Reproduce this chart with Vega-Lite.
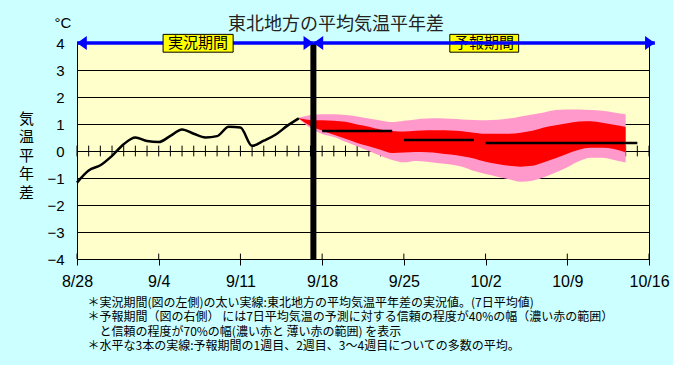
{
  "$schema": "https://vega.github.io/schema/vega-lite/v6.json",
  "width": 572,
  "height": 216,
  "autosize": {"type": "none"},
  "padding": {"left": 77, "top": 43, "right": 24, "bottom": 106},
  "background": "#CCFFFF",
  "title": {
    "text": "東北地方の平均気温平年差",
    "font": "Noto Sans CJK JP",
    "fontSize": 18,
    "fontWeight": "normal",
    "color": "#222222",
    "anchor": "middle",
    "frame": "group",
    "baseline": "middle",
    "dx": -27,
    "offset": -27
  },
  "config": {
    "view": {"fill": "#FFFFCC", "stroke": "black", "strokeWidth": 1},
    "axis": {"domainColor": "black", "tickColor": "black", "labelColor": "black", "titleColor": "black"}
  },
  "datasets": {
    "days": [
      {"date": "2024-08-28"}, {"date": "2024-08-29"}, {"date": "2024-08-30"}, {"date": "2024-08-31"},
      {"date": "2024-09-01"}, {"date": "2024-09-02"}, {"date": "2024-09-03"}, {"date": "2024-09-04"},
      {"date": "2024-09-05"}, {"date": "2024-09-06"}, {"date": "2024-09-07"}, {"date": "2024-09-08"},
      {"date": "2024-09-09"}, {"date": "2024-09-10"}, {"date": "2024-09-11"}, {"date": "2024-09-12"},
      {"date": "2024-09-13"}, {"date": "2024-09-14"}, {"date": "2024-09-15"}, {"date": "2024-09-16"},
      {"date": "2024-09-17"}, {"date": "2024-09-18"}, {"date": "2024-09-19"}, {"date": "2024-09-20"},
      {"date": "2024-09-21"}, {"date": "2024-09-22"}, {"date": "2024-09-23"}, {"date": "2024-09-24"},
      {"date": "2024-09-25"}, {"date": "2024-09-26"}, {"date": "2024-09-27"}, {"date": "2024-09-28"},
      {"date": "2024-09-29"}, {"date": "2024-09-30"}, {"date": "2024-10-01"}, {"date": "2024-10-02"},
      {"date": "2024-10-03"}, {"date": "2024-10-04"}, {"date": "2024-10-05"}, {"date": "2024-10-06"},
      {"date": "2024-10-07"}, {"date": "2024-10-08"}, {"date": "2024-10-09"}, {"date": "2024-10-10"},
      {"date": "2024-10-11"}, {"date": "2024-10-12"}, {"date": "2024-10-13"}, {"date": "2024-10-14"},
      {"date": "2024-10-15"}, {"date": "2024-10-16"}
    ],
    "weeks": [
      {"date": "2024-08-28"}, {"date": "2024-09-04"}, {"date": "2024-09-11"}, {"date": "2024-09-18"},
      {"date": "2024-09-25"}, {"date": "2024-10-02"}, {"date": "2024-10-09"}, {"date": "2024-10-16"}
    ],
    "observed": [
      {"date": "2024-08-28", "value": -1.17},
      {"date": "2024-08-29", "value": -0.72},
      {"date": "2024-08-30", "value": -0.53},
      {"date": "2024-08-31", "value": -0.18},
      {"date": "2024-09-01", "value": 0.25},
      {"date": "2024-09-02", "value": 0.5},
      {"date": "2024-09-03", "value": 0.37},
      {"date": "2024-09-04", "value": 0.33},
      {"date": "2024-09-05", "value": 0.56},
      {"date": "2024-09-06", "value": 0.8},
      {"date": "2024-09-07", "value": 0.64},
      {"date": "2024-09-08", "value": 0.5},
      {"date": "2024-09-09", "value": 0.55},
      {"date": "2024-09-10", "value": 0.9},
      {"date": "2024-09-11", "value": 0.87},
      {"date": "2024-09-12", "value": 0.19},
      {"date": "2024-09-13", "value": 0.38},
      {"date": "2024-09-14", "value": 0.6},
      {"date": "2024-09-15", "value": 0.93},
      {"date": "2024-09-16", "value": 1.21}
    ],
    "forecast": [
      {"date": "2024-09-16", "p_lo": 1.19, "r_lo": 1.2, "r_hi": 1.22, "p_hi": 1.23},
      {"date": "2024-09-17", "p_lo": 0.85, "r_lo": 0.93, "r_hi": 1.15, "p_hi": 1.33},
      {"date": "2024-09-18", "p_lo": 0.63, "r_lo": 0.76, "r_hi": 1.14, "p_hi": 1.36},
      {"date": "2024-09-19", "p_lo": 0.52, "r_lo": 0.6, "r_hi": 1.12, "p_hi": 1.36},
      {"date": "2024-09-20", "p_lo": 0.34, "r_lo": 0.45, "r_hi": 1.08, "p_hi": 1.33},
      {"date": "2024-09-21", "p_lo": 0.18, "r_lo": 0.3, "r_hi": 0.98, "p_hi": 1.28},
      {"date": "2024-09-22", "p_lo": 0.0, "r_lo": 0.18, "r_hi": 0.9, "p_hi": 1.2},
      {"date": "2024-09-23", "p_lo": -0.18, "r_lo": 0.05, "r_hi": 0.8, "p_hi": 1.13},
      {"date": "2024-09-24", "p_lo": -0.33, "r_lo": -0.07, "r_hi": 0.74, "p_hi": 1.07},
      {"date": "2024-09-25", "p_lo": -0.42, "r_lo": -0.06, "r_hi": 0.72, "p_hi": 1.12},
      {"date": "2024-09-26", "p_lo": -0.37, "r_lo": -0.04, "r_hi": 0.75, "p_hi": 1.17},
      {"date": "2024-09-27", "p_lo": -0.4, "r_lo": -0.05, "r_hi": 0.77, "p_hi": 1.2},
      {"date": "2024-09-28", "p_lo": -0.45, "r_lo": -0.08, "r_hi": 0.77, "p_hi": 1.21},
      {"date": "2024-09-29", "p_lo": -0.5, "r_lo": -0.13, "r_hi": 0.76, "p_hi": 1.19},
      {"date": "2024-09-30", "p_lo": -0.58, "r_lo": -0.19, "r_hi": 0.73, "p_hi": 1.17},
      {"date": "2024-10-01", "p_lo": -0.74, "r_lo": -0.28, "r_hi": 0.68, "p_hi": 1.15},
      {"date": "2024-10-02", "p_lo": -0.85, "r_lo": -0.4, "r_hi": 0.64, "p_hi": 1.14},
      {"date": "2024-10-03", "p_lo": -0.95, "r_lo": -0.48, "r_hi": 0.64, "p_hi": 1.16},
      {"date": "2024-10-04", "p_lo": -1.05, "r_lo": -0.55, "r_hi": 0.64, "p_hi": 1.2},
      {"date": "2024-10-05", "p_lo": -1.14, "r_lo": -0.58, "r_hi": 0.68, "p_hi": 1.28},
      {"date": "2024-10-06", "p_lo": -1.1, "r_lo": -0.55, "r_hi": 0.75, "p_hi": 1.35},
      {"date": "2024-10-07", "p_lo": -0.97, "r_lo": -0.42, "r_hi": 0.87, "p_hi": 1.43},
      {"date": "2024-10-08", "p_lo": -0.8, "r_lo": -0.27, "r_hi": 0.95, "p_hi": 1.52},
      {"date": "2024-10-09", "p_lo": -0.6, "r_lo": -0.1, "r_hi": 1.03, "p_hi": 1.54},
      {"date": "2024-10-10", "p_lo": -0.38, "r_lo": 0.05, "r_hi": 1.09, "p_hi": 1.54},
      {"date": "2024-10-11", "p_lo": -0.25, "r_lo": 0.12, "r_hi": 1.1, "p_hi": 1.52},
      {"date": "2024-10-12", "p_lo": -0.25, "r_lo": 0.12, "r_hi": 1.05, "p_hi": 1.49},
      {"date": "2024-10-13", "p_lo": -0.33, "r_lo": 0.07, "r_hi": 0.97, "p_hi": 1.43},
      {"date": "2024-10-14", "p_lo": -0.43, "r_lo": -0.06, "r_hi": 0.89, "p_hi": 1.36}
    ],
    "means": [
      {"start": "2024-09-18", "end": "2024-09-24", "value": 0.74},
      {"start": "2024-09-25", "end": "2024-10-01", "value": 0.41},
      {"start": "2024-10-02", "end": "2024-10-15", "value": 0.3}
    ],
    "boundary": [
      {"date": "2024-09-17T06:00:00Z"}
    ],
    "periods": [
      {"start": "2024-08-28T00:00:00Z", "end": "2024-09-17T06:00:00Z", "value": 4},
      {"start": "2024-09-17T06:00:00Z", "end": "2024-10-16T12:00:00Z", "value": 4}
    ],
    "arrows": [
      {"date": "2024-08-28T00:00:00Z", "value": 4, "dir": "left"},
      {"date": "2024-09-17T06:00:00Z", "value": 4, "dir": "right"},
      {"date": "2024-09-17T06:00:00Z", "value": 4, "dir": "left"},
      {"date": "2024-10-16T12:00:00Z", "value": 4, "dir": "right"}
    ],
    "label1": [
      {"name": "実況期間", "start": "2024-09-04T09:00:00Z", "end": "2024-09-10T09:00:00Z", "mid": "2024-09-07T09:00:00Z", "top": 4.32, "bottom": 3.66, "value": 4}
    ],
    "label2": [
      {"name": "予報期間", "start": "2024-09-28T22:30:00Z", "end": "2024-10-04T20:00:00Z", "mid": "2024-10-01T21:00:00Z", "top": 4.32, "bottom": 3.66, "value": 4}
    ],
    "unit": [
      {"date": "2024-08-28", "value": 4, "text": "°C"}
    ]
  },
  "layer": [
    {
      "data": {"name": "days"},
      "mark": {"type": "rule", "color": "black", "strokeWidth": 1},
      "encoding": {
        "x": {"field": "date", "type": "temporal"},
        "y": {"datum": -0.2, "type": "quantitative"},
        "y2": {"datum": 0.2}
      }
    },
    {
      "data": {"name": "weeks"},
      "mark": {"type": "rule", "color": "black", "strokeWidth": 1},
      "encoding": {
        "x": {"field": "date", "type": "temporal"},
        "y": {"datum": -4, "type": "quantitative"},
        "y2": {"datum": -3.8}
      }
    },
    {
      "data": {"name": "forecast"},
      "mark": {"type": "area", "interpolate": "monotone", "color": "#FF99CC"},
      "encoding": {
        "x": {"field": "date", "type": "temporal"},
        "y": {"field": "p_lo", "type": "quantitative"},
        "y2": {"field": "p_hi"}
      }
    },
    {
      "data": {"name": "forecast"},
      "mark": {"type": "area", "interpolate": "monotone", "color": "#FF0000"},
      "encoding": {
        "x": {"field": "date", "type": "temporal"},
        "y": {"field": "r_lo", "type": "quantitative"},
        "y2": {"field": "r_hi"}
      }
    },
    {
      "data": {"name": "observed"},
      "mark": {"type": "line", "interpolate": "monotone", "color": "black", "strokeWidth": 2.5},
      "encoding": {
        "x": {
          "field": "date", "type": "temporal",
          "scale": {"type": "utc", "domain": [{"year": 2024, "month": 8, "date": 28, "utc": true}, {"year": 2024, "month": 10, "date": 16, "utc": true}]},
          "axis": {
            "values": [
              {"year": 2024, "month": 8, "date": 28, "utc": true},
              {"year": 2024, "month": 9, "date": 4, "utc": true},
              {"year": 2024, "month": 9, "date": 11, "utc": true},
              {"year": 2024, "month": 9, "date": 18, "utc": true},
              {"year": 2024, "month": 9, "date": 25, "utc": true},
              {"year": 2024, "month": 10, "date": 2, "utc": true},
              {"year": 2024, "month": 10, "date": 9, "utc": true},
              {"year": 2024, "month": 10, "date": 16, "utc": true}
            ],
            "format": "%-m/%-d",
            "grid": false,
            "tickSize": 6,
            "labelPadding": 8,
            "labelFont": "Liberation Sans",
            "labelFontSize": 16,
            "labelFlush": false,
            "labelOverlap": false,
            "title": [
              "＊実況期間(図の左側)の太い実線:東北地方の平均気温平年差の実況値。(7日平均値)",
              "＊予報期間（図の右側） には7日平均気温の予測に対する信頼の程度が40%の幅（濃い赤の範囲）",
              "\u200b\u3000と信頼の程度が70%の幅(濃い赤と 薄い赤の範囲) を表示",
              "＊水平な3本の実線:予報期間の1週目、2週目、3～4週目についての多数の平均。"
            ],
            "titleFont": "Noto Sans CJK JP",
            "titleFontSize": 12,
            "titleFontWeight": "normal",
            "titleLineHeight": 14.5,
            "titleAlign": "left",
            "titleAnchor": "start",
            "titleBaseline": "top",
            "titleX": 10,
            "titleY": 38
          }
        },
        "y": {
          "field": "value", "type": "quantitative",
          "scale": {"domain": [-4, 4], "nice": false, "zero": false},
          "axis": {
            "values": [-4, -3, -2, -1, 0, 1, 2, 3, 4],
            "tickCount": 9,
            "grid": true,
            "gridColor": "black",
            "gridOpacity": 1,
            "gridWidth": 1,
            "ticks": false,
            "labelOverlap": false,
            "labelPadding": 13,
            "labelFont": "Liberation Sans",
            "labelFontSize": 15,
            "title": ["気", "温", "平", "年", "差"],
            "titleFont": "Noto Sans CJK JP",
            "titleFontSize": 15,
            "titleFontWeight": "normal",
            "titleAngle": 0,
            "titleLineHeight": 18.5,
            "titleAlign": "center",
            "titleBaseline": "middle",
            "titleX": -51,
            "titleY": 75
          }
        }
      }
    },
    {
      "data": {"name": "means"},
      "mark": {"type": "rule", "color": "black", "strokeWidth": 2.5},
      "encoding": {
        "x": {"field": "start", "type": "temporal"},
        "x2": {"field": "end"},
        "y": {"field": "value", "type": "quantitative"}
      }
    },
    {
      "data": {"name": "boundary"},
      "mark": {"type": "rule", "color": "black", "strokeWidth": 6},
      "encoding": {
        "x": {"field": "date", "type": "temporal"}
      }
    },
    {
      "data": {"name": "label2"},
      "mark": {"type": "rect", "color": "#FFFF00", "stroke": "black", "strokeWidth": 1},
      "encoding": {
        "x": {"field": "start", "type": "temporal"},
        "x2": {"field": "end"},
        "y": {"field": "bottom", "type": "quantitative"},
        "y2": {"field": "top"}
      }
    },
    {
      "data": {"name": "label2"},
      "mark": {"type": "text", "font": "Noto Sans CJK JP", "fontSize": 15, "color": "black", "baseline": "middle", "align": "center"},
      "encoding": {
        "x": {"field": "mid", "type": "temporal"},
        "y": {"field": "value", "type": "quantitative"},
        "text": {"field": "name"}
      }
    },
    {
      "data": {"name": "periods"},
      "mark": {"type": "rule", "color": "#0000FF", "strokeWidth": 3.5},
      "encoding": {
        "x": {"field": "start", "type": "temporal"},
        "x2": {"field": "end"},
        "y": {"field": "value", "type": "quantitative"}
      }
    },
    {
      "data": {"name": "arrows"},
      "mark": {"type": "point", "filled": true, "color": "#0000FF", "opacity": 1, "size": 196, "strokeWidth": 0},
      "encoding": {
        "x": {"field": "date", "type": "temporal"},
        "y": {"field": "value", "type": "quantitative"},
        "shape": {
          "field": "dir", "type": "nominal",
          "scale": {"domain": ["left", "right"], "range": ["M0,0L1.4,-1L1.4,1Z", "M0,0L-1.4,-1L-1.4,1Z"]},
          "legend": null
        }
      }
    },
    {
      "data": {"name": "label1"},
      "mark": {"type": "rect", "color": "#FFFF00", "stroke": "black", "strokeWidth": 1},
      "encoding": {
        "x": {"field": "start", "type": "temporal"},
        "x2": {"field": "end"},
        "y": {"field": "bottom", "type": "quantitative"},
        "y2": {"field": "top"}
      }
    },
    {
      "data": {"name": "label1"},
      "mark": {"type": "text", "font": "Noto Sans CJK JP", "fontSize": 15, "color": "black", "baseline": "middle", "align": "center"},
      "encoding": {
        "x": {"field": "mid", "type": "temporal"},
        "y": {"field": "value", "type": "quantitative"},
        "text": {"field": "name"}
      }
    },
    {
      "data": {"name": "unit"},
      "mark": {"type": "text", "font": "Liberation Sans", "fontSize": 15, "color": "black", "baseline": "middle", "align": "center", "dx": -14, "dy": -20},
      "encoding": {
        "x": {"field": "date", "type": "temporal"},
        "y": {"field": "value", "type": "quantitative"},
        "text": {"field": "text"}
      }
    }
  ]
}
